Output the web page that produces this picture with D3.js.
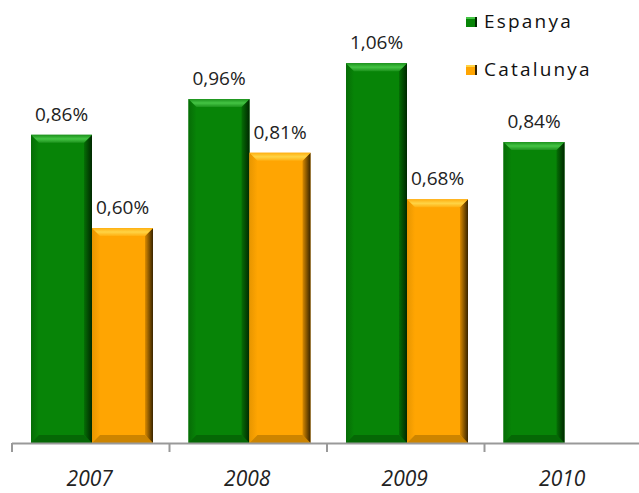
<!DOCTYPE html>
<html><head><meta charset="utf-8">
<script src="https://cdn.jsdelivr.net/npm/d3@7/dist/d3.min.js"></script>
<style>html,body{margin:0;padding:0;background:#fff}svg{display:block}</style>
</head><body>
<svg id="c" width="639" height="493"></svg>
<script>
const years = ["2007","2008","2009","2010"];
const seriesNames = ["Espanya","Catalunya"];
const espanya = [0.86,0.96,1.06,0.84];
const catalunya = [0.60,0.81,0.68,null];
const valueLabels = {Espanya:["0,86%","0,96%","1,06%","0,84%"], Catalunya:["0,60%","0,81%","0,68%",null]};

const palette = {
  Espanya:{base:"#078407", topA:"#1c921c", topB:"#44c444", side:"#056e05", dark:"#002800", left:"#066c06", bottom:"#056805"},
  Catalunya:{base:"#ffa502", topA:"#ffaf10", topB:"#ffd445", side:"#d98a00", dark:"#382400", left:"#e89600", bottom:"#cc8400"}
};

const svg = d3.select("#c");
const defs = svg.append("defs");
seriesNames.forEach((s,i)=>{
  const p = palette[s];
  const gt = defs.append("linearGradient").attr("id","top"+i).attr("x1",0).attr("y1",0).attr("x2",0).attr("y2",1);
  gt.append("stop").attr("offset","0%").attr("stop-color",p.topA);
  gt.append("stop").attr("offset","50%").attr("stop-color",p.topB);
  gt.append("stop").attr("offset","100%").attr("stop-color",p.topA);
  const gr = defs.append("linearGradient").attr("id","right"+i).attr("x1",0).attr("y1",0).attr("x2",1).attr("y2",0);
  gr.append("stop").attr("offset","0%").attr("stop-color",p.side);
  gr.append("stop").attr("offset","100%").attr("stop-color",p.dark);
  const gl = defs.append("linearGradient").attr("id","left"+i).attr("x1",0).attr("y1",0).attr("x2",1).attr("y2",0);
  gl.append("stop").attr("offset","0%").attr("stop-color",p.left);
  gl.append("stop").attr("offset","100%").attr("stop-color",p.base);
});

const y = d3.scaleLinear().domain([0,1.2]).range([443,13]);
const x = d3.scaleBand().domain(years).range([12,642]).paddingInner(0).paddingOuter(0);
const xs = d3.scaleBand().domain(seriesNames).range([19,141]);

const data = [];
years.forEach((yr,i)=>{
  [espanya,catalunya].forEach((arr,j)=>{
    if(arr[i]!=null) data.push({year:yr, series:seriesNames[j], si:j, v:arr[i], label:valueLabels[seriesNames[j]][i]});
  });
});

const b = 8;
const g = svg.append("g");
data.forEach(d=>{
  const x0 = x(d.year)+xs(d.series), x1 = x0+xs.bandwidth();
  const y0 = y(d.v), y1 = y(0);
  const p = palette[d.series];
  const bar = g.append("g");
  bar.append("rect").attr("x",x0).attr("y",y0).attr("width",x1-x0).attr("height",y1-y0).attr("fill",p.base);
  const poly = pts => pts.map(q=>q.join(",")).join(" ");
  bar.append("polygon").attr("points",poly([[x0,y0],[x0+b,y0+b],[x0+b,y1-b],[x0,y1]])).attr("fill","url(#left"+d.si+")");
  bar.append("polygon").attr("points",poly([[x0,y1],[x0+b,y1-b],[x1-b,y1-b],[x1,y1]])).attr("fill",p.bottom);
  bar.append("polygon").attr("points",poly([[x1,y0],[x1,y1],[x1-b,y1-b],[x1-b,y0+b]])).attr("fill","url(#right"+d.si+")");
  bar.append("polygon").attr("points",poly([[x0,y0],[x1,y0],[x1-b,y0+b],[x0+b,y0+b]])).attr("fill","url(#top"+d.si+")");
  g.append("text").attr("x",(x0+x1)/2).attr("y",y0-14).attr("text-anchor","middle")
    .attr("font-family","Open Sans").attr("font-size",19).attr("fill","#222").text(d.label);
});

// axis
const ax = svg.append("g");
ax.append("line").attr("x1",12).attr("x2",639).attr("y1",443.5).attr("y2",443.5).attr("stroke","#999").attr("stroke-width",2);
years.forEach(yr=>{
  ax.append("line").attr("x1",x(yr)).attr("x2",x(yr)).attr("y1",443).attr("y2",452).attr("stroke","#999").attr("stroke-width",2);
  ax.append("text").attr("x",x(yr)+x.bandwidth()/2-1).attr("y",486).attr("text-anchor","middle")
    .attr("font-family","Open Sans").attr("font-style","italic").attr("font-size",21).attr("fill","#222").text(yr);
});

// legend
const lg = svg.append("g");
seriesNames.forEach((s,i)=>{
  const ly = 17 + i*48;
  const p = palette[s];
  lg.append("rect").attr("x",466).attr("y",ly).attr("width",11).attr("height",10).attr("fill",p.base);
  lg.append("rect").attr("x",466).attr("y",ly).attr("width",11).attr("height",2).attr("fill",p.topB);
  lg.append("rect").attr("x",475).attr("y",ly).attr("width",2).attr("height",10).attr("fill",p.dark);
  lg.append("text").attr("x",484).attr("y",ly+11).attr("font-family","Open Sans").attr("font-size",19)
    .attr("letter-spacing",2.2).attr("fill","#111").text(s);
});
</script>
</body></html>
